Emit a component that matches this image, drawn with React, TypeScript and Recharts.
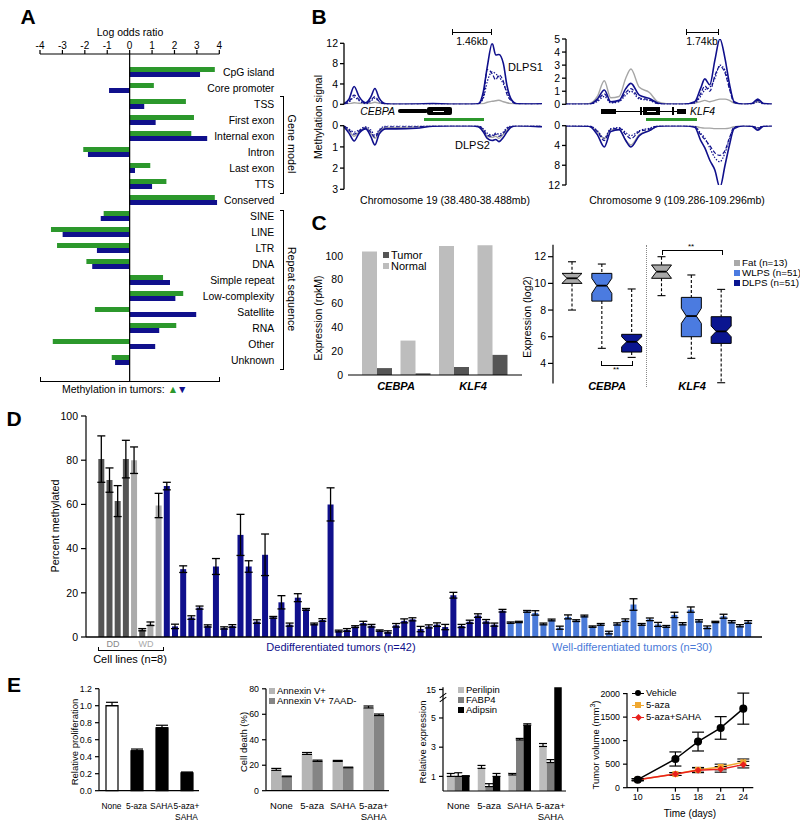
import React from 'react';
import {
  BarChart,
  Bar,
  LineChart,
  Line,
  XAxis,
  YAxis,
  ReferenceLine,
  ReferenceArea,
  ErrorBar,
  Cell,
} from 'recharts';

const FONT = 'Arial, "Liberation Sans", Helvetica, sans-serif';
const GREEN = '#2c982c';
const NAVY = '#10108c';
const LIGHT_BLUE = '#4a7ad8';
const GRAY_LINE = '#a6a6a6';

// ---------- A: log odds ratio
const aCategories = [
  'CpG island', 'Core promoter', 'TSS', 'First exon', 'Internal exon', 'Intron', 'Last exon', 'TTS',
  'Conserved', 'SINE', 'LINE', 'LTR', 'DNA', 'Simple repeat', 'Low-complexity', 'Satellite', 'RNA',
  'Other', 'Unknown',
];
const aUp = [3.8, 1.08, 2.51, 2.87, 2.75, -2.07, 0.92, 1.64, 3.8, -1.16, -3.51, -3.24, -1.93, 1.49, 2.39, -1.55, 2.08, -3.43, -0.8];
const aDown = [3.14, -0.92, 0.65, 1.16, 3.46, -1.86, 0.24, 1.0, 3.9, -1.29, -2.99, -1.46, -1.67, 1.8, 2.04, 2.97, 1.32, 1.14, -0.65];
const aTicks = [-4, -3, -2, -1, 0, 1, 2, 3, 4];

// ---------- B: methylation profiles
const cebpaPos = [0, 0.2, 0.41, 0.61, 0.88, 1.08, 1.25, 1.42, 1.69, 2.1, 2.92, 3.59, 4.27, 5.08, 5.42, 5.63, 5.79, 5.99, 6.13, 6.26, 6.44, 6.58, 6.78, 6.98, 7.53, 8];
const cebpaTopSolid = [0.1, 1.0, 3.5, 1.5, 0.3, 1.4, 3.1, 1.2, 0.1, 0, 0.05, 0.15, 0, 0, 0.1, 2.5, 7.4, 12, 9.7, 9.8, 8.0, 3.8, 0.8, 0.1, 0.05, 0.1];
const cebpaTopDashed = [0, 0.5, 1.8, 0.9, 0.2, 0.8, 1.5, 0.6, 0.05, 0, 0, 0.05, 0, 0, 0.1, 1.5, 6.9, 6.0, 4.8, 5.8, 4.5, 2.0, 0.6, 0.05, 0, 0.05];
const cebpaTopDotted = [0, 0.4, 1.4, 0.7, 0.1, 0.6, 1.2, 0.5, 0, 0, 0, 0, 0, 0, 0.1, 1.2, 4.5, 6.4, 6.0, 5.4, 4.0, 2.5, 0.8, 0.1, 0, 0];
const cebpaTopGray = [0, 0.1, 0.3, 0.2, 0.05, 0.2, 0.4, 0.2, 0.05, 0, 0, 0, 0, 0, 0, 0.1, 0.4, 0.6, 0.7, 0.8, 0.5, 0.3, 0.1, 0, 0, 0];
const cebpaBotSolid = [0.05, 0.35, 0.72, 0.35, 0.15, 0.5, 0.91, 0.4, 0.15, 0.15, 0.12, 0.02, 0, 0, 0.05, 0.3, 0.6, 0.7, 0.65, 0.75, 0.55, 0.3, 0.05, 0, 0.02, 0.05];
const cebpaBotDashed = [0, 0.2, 0.4, 0.25, 0.1, 0.3, 0.55, 0.25, 0.05, 0.05, 0.05, 0, 0, 0, 0, 0.2, 0.45, 0.5, 0.4, 0.5, 0.35, 0.15, 0.02, 0, 0, 0];
const cebpaBotDotted = [0, 0.15, 0.3, 0.2, 0.05, 0.2, 0.45, 0.2, 0, 0, 0, 0, 0, 0, 0, 0.15, 0.35, 0.45, 0.35, 0.4, 0.3, 0.1, 0, 0, 0, 0];
const cebpaBotGray = [0, 0.25, 0.5, 0.3, 0.1, 0.35, 0.6, 0.3, 0.1, 0.1, 0.05, 0, 0, 0, 0, 0.2, 0.5, 0.55, 0.5, 0.6, 0.4, 0.2, 0.05, 0, 0, 0];

const klf4Pos = [0, 1.11, 1.52, 1.86, 2.17, 2.58, 2.9, 3.15, 3.56, 4.05, 4.45, 4.86, 5.68, 6.25, 6.53, 6.74, 6.98, 7.23, 7.47, 7.72, 7.93, 8.16, 8.61, 9.02, 9.31, 9.59, 10];
const klf4TopGray = [0, 0.05, 0.6, 1.8, 0.5, 0.6, 2.0, 2.7, 1.3, 0.9, 0.2, 0.05, 0, 0.1, 0.2, 0.3, 0.2, 0.3, 0.4, 0.4, 0.3, 0.1, 0, 0.05, 0.2, 0.05, 0];
const klf4TopSolid = [0, 0, 0.4, 1.1, 0.2, 0.3, 1.2, 1.6, 0.7, 0.45, 0.1, 0, 0, 0.2, 1.2, 1.95, 1.5, 3.4, 5.0, 3.5, 1.6, 0.2, 0, 0.05, 0.4, 0.05, 0];
const klf4TopDashed = [0, 0, 0.3, 0.8, 0.15, 0.25, 0.9, 1.2, 0.5, 0.35, 0.05, 0, 0, 0.15, 0.8, 1.4, 1.0, 2.2, 2.9, 2.4, 1.2, 0.15, 0, 0.05, 0.3, 0.05, 0];
const klf4TopDotted = [0, 0, 0.2, 0.6, 0.1, 0.2, 0.7, 1.0, 0.4, 0.3, 0.05, 0, 0, 0.1, 0.6, 1.1, 1.3, 2.0, 3.0, 2.6, 1.3, 0.2, 0, 0, 0.2, 0, 0];
const klf4BotSolid = [0, 0.1, 1.8, 4.3, 1.2, 0.8, 3.0, 4.3, 2.0, 1.0, 0.1, 0, 0, 0.3, 2.9, 4.5, 7.0, 9.0, 12.5, 8.0, 4.0, 0.6, 0, 0.1, 0.9, 0.1, 0];
const klf4BotGray = [0, 0.1, 1.2, 2.6, 0.8, 0.8, 3.0, 3.9, 1.8, 1.0, 0.1, 0, 0, 0.1, 0.4, 0.5, 0.5, 0.6, 0.6, 0.6, 0.5, 0.2, 0, 0.1, 0.5, 0.1, 0];
const klf4BotDashed = [0, 0, 1.2, 3.0, 0.8, 0.5, 1.8, 2.6, 1.2, 0.7, 0, 0, 0, 0.2, 1.8, 2.8, 4.0, 5.5, 6.0, 5.0, 2.5, 0.3, 0, 0.05, 0.6, 0.05, 0];
const klf4BotDotted = [0, 0, 1.0, 2.5, 0.6, 0.4, 1.4, 2.0, 1.0, 0.5, 0, 0, 0, 0.1, 1.5, 2.5, 4.5, 6.5, 7.3, 5.5, 2.8, 0.4, 0, 0, 0.4, 0, 0];

// ---------- C: expression
const cBars = ['CEBPA-1', 'CEBPA-2', 'KLF4-1', 'KLF4-2'];
const cNormal = [103.6, 28.9, 108.3, 108.9];
const cTumor = [5.8, 1.4, 6.7, 16.9];

const boxGroup = ['Fat', 'WLPS', 'DLPS', 'Fat', 'WLPS', 'DLPS'];
const boxMin = [8.0, 5.13, 4.45, 9.08, 4.38, 2.55];
const boxQ1 = [10.0, 8.67, 4.85, 10.38, 6.0, 5.5];
const boxMedian = [10.38, 9.83, 5.62, 10.88, 7.55, 6.4];
const boxQ3 = [10.75, 10.75, 6.18, 11.38, 8.95, 7.5];
const boxMax = [11.62, 11.45, 9.58, 12.0, 10.63, 9.55];
const boxNotchLo = [10.0, 9.25, 5.25, 10.38, 7.0, 6.0];
const boxNotchHi = [10.75, 10.38, 6.0, 11.38, 8.13, 6.8];

// ---------- D: percent methylated
const cellLineValues = [80.5, 71, 61.5, 80.5, 80, 3.3, 6, 59.5];
const cellLineErrors = [10.5, 5.5, 7, 8.5, 6, 0.5, 0.8, 5.5];
const cellLineKinds = ['DD', 'DD', 'DD', 'DD', 'WD', 'DD', 'WD', 'WD'];
const dedifValues = [68.3, 4.8, 30.7, 8.8, 13.3, 5.0, 31.9, 4.1, 5.0, 46.2, 31.9, 7.0, 37.2, 8.9, 15.7, 5.6, 17.8, 12.5, 5.9, 7.7, 60.0, 2.7, 3.2, 4.7, 6.3, 5.1, 2.9, 2.3, 5.3, 7.3, 8.0, 3.6, 4.8, 5.6, 4.5, 18.9, 5.0, 6.9, 9.7, 7.1, 5.6, 11.9];
const dedifErrors = [1.7, 1.0, 1.5, 0.8, 0.7, 0.5, 3.6, 0.5, 0.6, 9.3, 2.6, 0.8, 9.4, 0.4, 3.0, 0.7, 1.8, 0.4, 0.4, 0.6, 7.5, 0.4, 0.6, 0.4, 0.8, 0.6, 0.3, 0.5, 0.8, 0.9, 0.7, 1.2, 0.7, 0.8, 1.2, 1.3, 0.7, 0.7, 0.8, 0.8, 0.7, 0.6];
const wellDiffValues = [6.5, 6.8, 11.6, 10.9, 5.9, 7.7, 4.2, 9.1, 7.4, 9.5, 4.7, 5.7, 2.0, 5.9, 7.6, 14.7, 5.7, 8.0, 5.7, 4.8, 10.0, 6.0, 12.4, 7.3, 4.4, 6.8, 9.4, 6.9, 5.1, 6.8];
const wellDiffErrors = [0.3, 0.3, 0.4, 1.0, 0.4, 0.4, 0.7, 0.9, 0.4, 0.4, 0.3, 0.4, 0.6, 0.5, 0.6, 2.6, 0.4, 0.6, 0.9, 0.4, 1.2, 0.5, 1.2, 0.5, 0.6, 0.3, 0.9, 0.5, 0.5, 0.6];

// ---------- E: treatments
const treatments = ['None', '5-aza', 'SAHA', '5-aza+\nSAHA'];
const prolifValues = [1.0, 0.47, 0.74, 0.21];
const prolifErrors = [0.04, 0.02, 0.03, 0.01];
const annexinValues = [16, 28.5, 23, 65];
const annexinErrors = [1.5, 1.5, 0.8, 1.5];
const annexin7aadValues = [11, 23, 18, 59];
const annexin7aadErrors = [0.5, 1, 0.5, 1.2];
const perilipinValues = [1.0, 1.55, 1.1, 3.05];
const perilipinErrors = [0.2, 0.2, 0.1, 0.2];
const fabp4Values = [1.0, 0.3, 3.5, 1.95];
const fabp4Errors = [0.25, 0.2, 0.1, 0.2];
const adipsinValues = [1.0, 1.0, 4.5, 15];
const adipsinErrors = [0.05, 0.2, 0.1, 0.3];

const days = [10, 15, 18, 21, 24];
const vehicleVolume = [170, 610, 980, 1270, 1680];
const vehicleErr = [20, 150, 200, 240, 330];
const azaVolume = [170, 290, 380, 440, 540];
const azaErr = [20, 30, 50, 60, 70];
const comboVolume = [170, 290, 370, 390, 490];
const comboErr = [20, 30, 50, 60, 70];

// ---------- tables
const aRows = aCategories.map((name, i) => ({ name, up: aUp[i], down: aDown[i] }));
const cRows = cBars.map((k, i) => ({ k, normal: cNormal[i], tumor: cTumor[i] }));
const boxRows = boxGroup.map((group, i) => ({
  key: `${i}`,
  group,
  span: [boxMin[i], boxMax[i]],
  min: boxMin[i],
  q1: boxQ1[i],
  median: boxMedian[i],
  q3: boxQ3[i],
  max: boxMax[i],
  nLo: boxNotchLo[i],
  nHi: boxNotchHi[i],
}));
const dRows = [
  ...cellLineValues.map((v, i) => ({ id: `c${i}`, v, e: cellLineErrors[i], kind: cellLineKinds[i] })),
  ...dedifValues.map((v, i) => ({ id: `d${i}`, v, e: dedifErrors[i], kind: 'dedif' })),
  ...wellDiffValues.map((v, i) => ({ id: `w${i}`, v, e: wellDiffErrors[i], kind: 'well' })),
];
const prolifRows = treatments.map((t, i) => ({ t, v: prolifValues[i], e: [0, prolifErrors[i]] }));
const deathRows = treatments.map((t, i) => ({
  t, a: annexinValues[i], ae: [0, annexinErrors[i]], b: annexin7aadValues[i], be: [0, annexin7aadErrors[i]],
}));
const exprRows = treatments.map((t, i) => ({
  t,
  p: perilipinValues[i], pe: [0, perilipinErrors[i]],
  f: fabp4Values[i], fe: [0, fabp4Errors[i]],
  a: adipsinValues[i], ae: [0, adipsinErrors[i]],
}));
const volRows = days.map((d, i) => ({
  d, veh: vehicleVolume[i], vehE: vehicleErr[i], aza: azaVolume[i], azaE: azaErr[i], combo: comboVolume[i], comboE: comboErr[i],
}));

const D_COLORS: Record<string, string> = { DD: '#555555', WD: '#ababab', dedif: NAVY, well: LIGHT_BLUE };
const BOX_COLORS: Record<string, string> = { Fat: '#a9a9a9', WLPS: '#4b7be0', DLPS: '#0a1590' };

// ---------- helpers
function T({ x, y, children, a = 'middle', s = 10.5, w = 400, i = false, c = '#000', r = 0 }: any) {
  const tx = r ? '-50%' : a === 'start' ? '0%' : a === 'end' ? '-100%' : '-50%';
  return (
    <div
      style={{
        position: 'absolute', left: x, top: y, transform: `translate(${tx},-50%)${r ? ` rotate(${r}deg)` : ''}`,
        fontSize: s, fontWeight: w, fontStyle: i ? 'italic' : 'normal', color: c, whiteSpace: 'nowrap', lineHeight: 1,
      }}
    >
      {children}
    </div>
  );
}

function R({ x, y, w, h, c = '#000', style = {} }: any) {
  return <div style={{ position: 'absolute', left: x, top: y, width: w, height: h, background: c, ...style }} />;
}

const tickStyle = { fontSize: 10.5, fill: '#000' };
const aTickStyle = { fontSize: 10, fill: '#000' };
const eTick = { fontSize: 8.8, fill: '#000' };

function CategoryLabel({ x, y, payload }: any) {
  return (
    <text x={x + 47} y={y} dy={4} textAnchor="end" fontSize={10.4} fill="#000">
      {payload.value}
    </text>
  );
}

function TwoLineTick({ x, y, payload, fs = 10 }: any) {
  const parts = String(payload.value).split('\n');
  return (
    <text x={x} y={y} textAnchor="middle" fontSize={fs} fill="#000">
      {parts.map((p, i) => (
        <tspan key={i} x={x} dy={i === 0 ? 18 : 11}>{p}</tspan>
      ))}
    </text>
  );
}

function NotchedBox(props: any) {
  const { x, y, width, height, payload } = props;
  if (!payload || height == null) return null;
  const top = Math.min(y, y + height);
  const h = Math.abs(height);
  const py = (v: number) => top + ((payload.max - v) / (payload.max - payload.min)) * h;
  const cx = x + width / 2;
  const L = x;
  const Rt = x + width;
  const inset = width * 0.25;
  const pts = [
    [L, py(payload.q3)], [Rt, py(payload.q3)], [Rt, py(payload.nHi)], [Rt - inset, py(payload.median)],
    [Rt, py(payload.nLo)], [Rt, py(payload.q1)], [L, py(payload.q1)], [L, py(payload.nLo)],
    [L + inset, py(payload.median)], [L, py(payload.nHi)],
  ].map((p) => p.join(',')).join(' ');
  return (
    <g>
      <line x1={cx} x2={cx} y1={py(payload.max)} y2={py(payload.q3)} stroke="#000" strokeWidth={1.1} strokeDasharray="3 2" />
      <line x1={cx} x2={cx} y1={py(payload.q1)} y2={py(payload.min)} stroke="#000" strokeWidth={1.1} strokeDasharray="3 2" />
      <line x1={cx - 4} x2={cx + 4} y1={py(payload.max)} y2={py(payload.max)} stroke="#000" strokeWidth={1.1} />
      <line x1={cx - 4} x2={cx + 4} y1={py(payload.min)} y2={py(payload.min)} stroke="#000" strokeWidth={1.1} />
      <polygon points={pts} fill={BOX_COLORS[payload.group]} stroke="#000" strokeWidth={1} />
      <line x1={L + inset} x2={Rt - inset} y1={py(payload.median)} y2={py(payload.median)} stroke="#000" strokeWidth={1.8} />
    </g>
  );
}

function Profile({ left, top, width, height, margin, pos, solid, dashed, dotted, gray, domain, ticks, reversed }: any) {
  const rows = pos.map((p: number, i: number) => ({ p, solid: solid[i], dashed: dashed[i], dotted: dotted[i], gray: gray[i] }));
  return (
    <div style={{ position: 'absolute', left, top }}>
      <LineChart width={width} height={height} data={rows} margin={margin}>
        <XAxis type="number" dataKey="p" domain={[pos[0], pos[pos.length - 1]]} hide />
        <YAxis
          domain={domain}
          ticks={ticks}
          reversed={reversed}
          allowDataOverflow
          interval={0}
          width={44}
          tick={tickStyle}
          tickSize={4}
          stroke="#000"
          strokeWidth={1.3}
        />
        <Line dataKey="gray" type="monotone" stroke={GRAY_LINE} strokeWidth={1.4} dot={false} isAnimationActive={false} />
        <Line dataKey="dotted" type="monotone" stroke={NAVY} strokeWidth={1.2} strokeDasharray="1.5 1.5" dot={false} isAnimationActive={false} />
        <Line dataKey="dashed" type="monotone" stroke={NAVY} strokeWidth={1.2} strokeDasharray="4 2" dot={false} isAnimationActive={false} />
        <Line dataKey="solid" type="monotone" stroke={NAVY} strokeWidth={1.6} dot={false} isAnimationActive={false} />
      </LineChart>
    </div>
  );
}

function Square({ x, y, c, label, s = 9.5 }: any) {
  return (
    <>
      <R x={x} y={y - 3} w={6} h={6} c={c} />
      <T x={x + 8} y={y} a="start" s={s}>{label}</T>
    </>
  );
}

function SquareDot(props: any) {
  const { cx, cy, index } = props;
  if (cx == null) return null;
  return <rect key={`s${index}`} x={cx - 3} y={cy - 3} width={6} height={6} fill="#f0a830" />;
}

function DiamondDot(props: any) {
  const { cx, cy, index } = props;
  if (cx == null) return null;
  return <polygon key={`d${index}`} points={`${cx},${cy - 3.5} ${cx + 3.5},${cy} ${cx},${cy + 3.5} ${cx - 3.5},${cy}`} fill="#e8201c" />;
}

export default function App() {
  return (
    <div
      style={{
        position: 'absolute', left: 0, top: 0, width: 800, height: 826, background: '#fff',
        fontFamily: FONT, color: '#000', overflow: 'hidden',
      }}
    >
      {/* ---------------- A ---------------- */}
      <T x={28} y={16} s={21} w={700}>A</T>
      <T x={130} y={32} s={10.5}>Log odds ratio</T>
      <div style={{ position: 'absolute', left: 0, top: 0 }}>
        <BarChart
          layout="vertical"
          width={330}
          height={400}
          data={aRows}
          margin={{ top: 34, right: 0, left: 40, bottom: 19 }}
          barSize={5}
          barGap={0}
        >
          <XAxis
            type="number"
            orientation="top"
            domain={[-4, 4]}
            ticks={aTicks}
            height={20}
            tick={aTickStyle}
            tickSize={4}
            tickMargin={1}
            stroke="#000"
            strokeWidth={1.2}
          />
          <YAxis
            type="category"
            dataKey="name"
            orientation="right"
            width={110.7}
            padding={{ top: 10, bottom: 13 }}
            axisLine={false}
            tickLine={false}
            interval={0}
            tick={<CategoryLabel />}
          />
          <Bar dataKey="up" fill={GREEN} isAnimationActive={false} />
          <Bar dataKey="down" fill={NAVY} isAnimationActive={false} />
          <ReferenceLine x={0} stroke="#000" strokeWidth={1.2} />
        </BarChart>
      </div>
      <div style={{ position: 'absolute', left: 280, top: 96, width: 3, height: 96, borderTop: '1px solid #000', borderRight: '1px solid #000', borderBottom: '1px solid #000' }} />
      <T x={292} y={144} r={90} s={10.8}>Gene model</T>
      <div style={{ position: 'absolute', left: 280, top: 210, width: 3, height: 158, borderTop: '1px solid #000', borderRight: '1px solid #000', borderBottom: '1px solid #000' }} />
      <T x={292} y={289} r={90} s={10.8}>Repeat sequence</T>
      <div style={{ position: 'absolute', left: 40, top: 377, width: 178, height: 4, borderLeft: '1px solid #000', borderRight: '1px solid #000', borderBottom: '1px solid #000' }} />
      <T x={62} y={389} a="start" s={10.5}>
        Methylation in tumors: <span style={{ color: GREEN }}>▲</span><span style={{ color: NAVY, marginLeft: -1 }}>▼</span>
      </T>

      {/* ---------------- B ---------------- */}
      <T x={319} y={16} s={21} w={700}>B</T>
      <T x={318} y={117} r={-90} s={10.5}>Methylation signal</T>
      <Profile
        left={300} top={30} width={250} height={80}
        margin={{ top: 13.3, right: 8, bottom: 5.7, left: 0 }}
        pos={cebpaPos} solid={cebpaTopSolid} dashed={cebpaTopDashed} dotted={cebpaTopDotted} gray={cebpaTopGray}
        domain={[0, 12]} ticks={[0, 4, 8, 12]} reversed={false}
      />
      <Profile
        left={300} top={115} width={250} height={80}
        margin={{ top: 10.7, right: 8, bottom: 5.7, left: 0 }}
        pos={cebpaPos} solid={cebpaBotSolid} dashed={cebpaBotDashed} dotted={cebpaBotDotted} gray={cebpaBotGray}
        domain={[0, 3]} ticks={[0, 1, 2, 3]} reversed
      />
      <Profile
        left={522} top={30} width={260} height={80}
        margin={{ top: 9, right: 10, bottom: 5.7, left: 0 }}
        pos={klf4Pos} solid={klf4TopSolid} dashed={klf4TopDashed} dotted={klf4TopDotted} gray={klf4TopGray}
        domain={[0, 5]} ticks={[0, 1, 2, 3, 4, 5]} reversed={false}
      />
      <Profile
        left={522} top={115} width={260} height={80}
        margin={{ top: 10.7, right: 10, bottom: 10, left: 0 }}
        pos={klf4Pos} solid={klf4BotSolid} dashed={klf4BotDashed} dotted={klf4BotDotted} gray={klf4BotGray}
        domain={[0, 12]} ticks={[0, 4, 8, 12]} reversed
      />
      {/* scale bars */}
      <R x={452} y={31.5} w={40} h={1} />
      <R x={452} y={29} w={1} h={6} />
      <R x={491} y={29} w={1} h={6} />
      <T x={472} y={41} s={10.5}>1.46kb</T>
      <R x={686} y={31.5} w={33} h={1} />
      <R x={686} y={29} w={1} h={6} />
      <R x={718} y={29} w={1} h={6} />
      <T x={702} y={41} s={10.5}>1.74kb</T>
      <T x={508} y={67} a="start" s={11}>DLPS1</T>
      <T x={455} y={145} a="start" s={11}>DLPS2</T>
      {/* CEBPA gene track */}
      <T x={395} y={111} a="end" s={10.5} i>CEBPA</T>
      <R x={398} y={109} w={30} h={4} style={{ borderRadius: 2 }} />
      <R x={427} y={107} w={25} h={8} style={{ borderRadius: 2 }} />
      <R x={433} y={110.5} w={11} h={1} c="#fff" />
      <R x={424} y={117.5} w={60} h={3.5} c={GREEN} />
      {/* KLF4 gene track */}
      <R x={601} y={108.5} w={15} h={5} />
      <R x={616} y={110.5} w={70} h={1} />
      <R x={640} y={107} w={2} h={8} />
      <R x={643} y={107} w={17} h={8} />
      <R x={647} y={110.5} w={9} h={1} c="#fff" />
      <R x={672} y={107} w={2} h={8} />
      <R x={677} y={108.5} w={9} h={5} />
      <T x={690} y={111} a="start" s={10.5} i>KLF4</T>
      <R x={646} y={117.5} w={51} h={3.5} c={GREEN} />
      <T x={445} y={200} s={10.5}>Chromosome 19 (38.480-38.488mb)</T>
      <T x={677} y={200} s={10.5}>Chromosome 9 (109.286-109.296mb)</T>

      {/* ---------------- C ---------------- */}
      <T x={319} y={222} s={21} w={700}>C</T>
      <T x={318} y={318} r={-90} s={10.5}>Expression (rpkM)</T>
      <div style={{ position: 'absolute', left: 300, top: 230 }}>
        <BarChart
          width={230}
          height={160}
          data={cRows}
          margin={{ top: 14, right: 8, left: 0, bottom: 14 }}
          barSize={15}
          barGap={0}
        >
          <XAxis dataKey="k" tick={false} tickLine={false} height={1} padding={{ left: 10, right: 10 }} stroke="#000" strokeWidth={1.2} />
          <YAxis domain={[0, 110]} ticks={[0, 20, 40, 60, 80, 100]} width={48} axisLine={false} tickLine={false} tickSize={3} tick={tickStyle} />
          <Bar dataKey="normal" fill="#bdbdbd" isAnimationActive={false} />
          <Bar dataKey="tumor" fill="#555555" isAnimationActive={false} />
        </BarChart>
      </div>
      <Square x={383} y={255} c="#555555" label="Tumor" s={11} />
      <Square x={383} y={266} c="#bdbdbd" label="Normal" s={11} />
      <T x={396} y={386} s={11} w={700} i>CEBPA</T>
      <T x={473} y={386} s={11} w={700} i>KLF4</T>

      <T x={527} y={317} r={-90} s={10.5}>Expression (log2)</T>
      <div style={{ position: 'absolute', left: 500, top: 235 }}>
        <BarChart width={245} height={155} data={boxRows} margin={{ top: 9.7, right: 5, left: 0, bottom: 6.6 }} barSize={20}>
          <XAxis dataKey="key" hide padding={{ left: 4, right: 4 }} />
          <YAxis domain={[2.5, 12.9]} ticks={[4, 6, 8, 10, 12]} width={53} tick={tickStyle} tickSize={5} stroke="#000" strokeWidth={1.2} />
          <Bar dataKey="span" shape={(p: any) => <NotchedBox {...p} />} isAnimationActive={false} />
        </BarChart>
      </div>
      <div style={{ position: 'absolute', left: 646, top: 245, height: 142, borderLeft: '1px dotted #888' }} />
      <div style={{ position: 'absolute', left: 601, top: 361, width: 30, height: 4, borderLeft: '1px solid #000', borderRight: '1px solid #000', borderBottom: '1px solid #000' }} />
      <T x={616} y={370} s={8}>**</T>
      <div style={{ position: 'absolute', left: 662, top: 250, width: 59, height: 4, borderLeft: '1px solid #000', borderRight: '1px solid #000', borderTop: '1px solid #000' }} />
      <T x={691} y={247} s={8}>**</T>
      <T x={607} y={386} s={11} w={700} i>CEBPA</T>
      <T x={692} y={386} s={11} w={700} i>KLF4</T>
      <Square x={734} y={263} c={BOX_COLORS.Fat} label="Fat (n=13)" s={9.8} />
      <Square x={734} y={273} c={BOX_COLORS.WLPS} label="WLPS (n=51)" s={9.8} />
      <Square x={734} y={283} c={BOX_COLORS.DLPS} label="DLPS (n=51)" s={9.8} />

      {/* ---------------- D ---------------- */}
      <T x={14} y={418} s={21} w={700}>D</T>
      <T x={55} y={526} r={-90} s={10.8}>Percent methylated</T>
      <div style={{ position: 'absolute', left: 0, top: 405 }}>
        <BarChart width={800} height={260} data={dRows} margin={{ top: 11, right: 38, left: 0, bottom: 26 }} barCategoryGap="16%">
          <XAxis dataKey="id" tick={false} tickLine={false} height={2} padding={{ left: 11, right: 10 }} stroke="#000" strokeWidth={1.5} />
          <YAxis domain={[0, 100]} ticks={[0, 20, 40, 60, 80, 100]} width={86} tick={tickStyle} tickSize={5} tickMargin={3} stroke="#000" strokeWidth={1.2} />
          <Bar dataKey="v" isAnimationActive={false}>
            {dRows.map((r) => (
              <Cell key={r.id} fill={D_COLORS[r.kind]} />
            ))}
            <ErrorBar dataKey="e" width={4} stroke="#000" strokeWidth={1.3} />
          </Bar>
        </BarChart>
      </div>
      <T x={113} y={644} s={9} c="#888">DD</T>
      <T x={146} y={644} s={9} c="#aaa">WD</T>
      <div style={{ position: 'absolute', left: 98, top: 647, width: 64, height: 3, borderLeft: '1px solid #000', borderRight: '1px solid #000', borderBottom: '1px solid #000' }} />
      <T x={130} y={659} s={11}>Cell lines (n=8)</T>
      <T x={341} y={647} s={11} c={NAVY}>Dedifferentiated tumors (n=42)</T>
      <T x={632} y={647} s={11} c={LIGHT_BLUE}>Well-differentiated tumors (n=30)</T>

      {/* ---------------- E ---------------- */}
      <T x={14} y={684} s={21} w={700}>E</T>

      {/* E1 proliferation */}
      <T x={75} y={742} r={-90} s={9.5}>Relative proliferation</T>
      <div style={{ position: 'absolute', left: 40, top: 680 }}>
        <BarChart width={170} height={146} data={prolifRows} margin={{ top: 8.7, right: 11, left: 0, bottom: 0 }} barSize={12}>
          <XAxis dataKey="t" height={35.3} tickLine={false} tickSize={0} tickMargin={0} interval={0} tick={<TwoLineTick fs={8.4} />} stroke="#000" strokeWidth={1.2} />
          <YAxis domain={[0, 1.2]} ticks={[0, 0.2, 0.4, 0.6, 0.8, 1.0, 1.2]} tickFormatter={(v: number) => v.toFixed(1)} width={59} tick={eTick} tickSize={4} tickMargin={3} stroke="#000" strokeWidth={1.2} />
          <Bar dataKey="v" isAnimationActive={false}>
            {prolifRows.map((r, i) => (
              <Cell key={r.t} fill={i === 0 ? '#fff' : '#000'} stroke="#000" strokeWidth={1.2} />
            ))}
            <ErrorBar dataKey="e" width={6} stroke="#000" strokeWidth={1.2} />
          </Bar>
        </BarChart>
      </div>

      {/* E2 cell death */}
      <T x={244} y={742} r={-90} s={9.5}>Cell death (%)</T>
      <div style={{ position: 'absolute', left: 210, top: 680 }}>
        <BarChart width={185} height={146} data={deathRows} margin={{ top: 8.8, right: 6, left: 0, bottom: 0 }} barSize={10.5} barGap={0}>
          <XAxis dataKey="t" height={35.3} tickLine={false} tickSize={0} tickMargin={0} interval={0} tick={<TwoLineTick fs={9.5} />} stroke="#000" strokeWidth={1.2} />
          <YAxis domain={[0, 80]} ticks={[0, 20, 40, 60, 80]} width={56} tick={eTick} tickSize={4} tickMargin={3} stroke="#000" strokeWidth={1.2} />
          <Bar dataKey="a" fill="#b5b5b5" isAnimationActive={false}>
            <ErrorBar dataKey="ae" width={5} stroke="#000" strokeWidth={1.2} />
          </Bar>
          <Bar dataKey="b" fill="#858585" isAnimationActive={false}>
            <ErrorBar dataKey="be" width={5} stroke="#000" strokeWidth={1.2} />
          </Bar>
        </BarChart>
      </div>
      <Square x={269} y={691} c="#b5b5b5" label="Annexin V+" />
      <Square x={269} y={701} c="#858585" label="Annexin V+ 7AAD-" />

      {/* E3 relative expression */}
      <T x={423} y={742} r={-90} s={9.5}>Relative expression</T>
      <div style={{ position: 'absolute', left: 390, top: 680 }}>
        <BarChart width={185} height={146} data={exprRows} margin={{ top: 7.3, right: 9, left: 0, bottom: 0 }} barSize={7.5} barGap={0}>
          <XAxis dataKey="t" height={35} tickLine={false} tickSize={0} tickMargin={0} interval={0} tick={<TwoLineTick fs={9.5} />} stroke="#000" strokeWidth={1.2} />
          <YAxis
            domain={[0, 7.1]}
            allowDataOverflow
            ticks={[0, 1, 2, 3, 4, 5, 6, 6.95]}
            tickFormatter={(v: number) => (v > 6.5 ? '15' : String(v))}
            width={53}
            tick={eTick}
            tickSize={4}
            tickMargin={3}
            stroke="#000"
            strokeWidth={1.2}
          />
          <Bar dataKey="p" fill="#bcbcbc" isAnimationActive={false}>
            <ErrorBar dataKey="pe" width={4} stroke="#000" strokeWidth={1.2} />
          </Bar>
          <Bar dataKey="f" fill="#7d7d7d" isAnimationActive={false}>
            <ErrorBar dataKey="fe" width={4} stroke="#000" strokeWidth={1.2} />
          </Bar>
          <Bar dataKey="a" fill="#000" isAnimationActive={false}>
            <ErrorBar dataKey="ae" width={4} stroke="#000" strokeWidth={1.2} />
          </Bar>
          <ReferenceArea y1={6.38} y2={6.52} fill="#fff" fillOpacity={1} stroke="none" />
        </BarChart>
      </div>
      <R x={439} y={695} w={8} h={1} style={{ transform: 'rotate(-35deg)' }} />
      <R x={439} y={699} w={8} h={1} style={{ transform: 'rotate(-35deg)' }} />
      <Square x={458} y={690} c="#bcbcbc" label="Perilipin" />
      <Square x={458} y={700} c="#7d7d7d" label="FABP4" />
      <Square x={458} y={710} c="#000" label="Adipsin" />

      {/* E4 tumor volume */}
      <T x={595} y={745} r={-90} s={9.5}>
        Tumor volume (mm<sup style={{ fontSize: 7 }}>3</sup>)
      </T>
      <div style={{ position: 'absolute', left: 570, top: 680 }}>
        <LineChart width={200} height={140} data={volRows} margin={{ top: 13.1, right: 16.7, left: 0, bottom: 12.3 }}>
          <XAxis type="number" dataKey="d" domain={[10, 24]} ticks={days} padding={{ left: 10.7, right: 10 }} height={20} tick={eTick} tickSize={4} tickMargin={2} stroke="#000" strokeWidth={1.2} />
          <YAxis domain={[0, 2000]} ticks={[0, 500, 1000, 1500, 2000]} width={57} tick={eTick} tickSize={4} tickMargin={3} stroke="#000" strokeWidth={1.2} />
          <Line dataKey="aza" stroke="#f0a830" strokeWidth={1.5} dot={<SquareDot />} isAnimationActive={false}>
            <ErrorBar dataKey="azaE" width={6} stroke="#000" strokeWidth={1.1} direction="y" />
          </Line>
          <Line dataKey="combo" stroke="#e8201c" strokeWidth={1.5} dot={<DiamondDot />} isAnimationActive={false}>
            <ErrorBar dataKey="comboE" width={6} stroke="#000" strokeWidth={1.1} direction="y" />
          </Line>
          <Line dataKey="veh" stroke="#000" strokeWidth={1.5} dot={{ r: 3.3, fill: '#000', stroke: '#000' }} isAnimationActive={false}>
            <ErrorBar dataKey="vehE" width={6} stroke="#000" strokeWidth={1.2} direction="y" />
          </Line>
        </LineChart>
      </div>
      <T x={690} y={814} s={10}>Time (days)</T>
      <R x={632} y={692.5} w={12} h={1.5} />
      <div style={{ position: 'absolute', left: 635, top: 690, width: 6, height: 6, borderRadius: 3, background: '#000' }} />
      <T x={646} y={693} a="start" s={9.5}>Vehicle</T>
      <R x={632} y={704.5} w={12} h={1.5} c="#f0a830" />
      <R x={635} y={702} w={6} h={6} c="#f0a830" />
      <T x={646} y={705} a="start" s={9.5}>5-aza</T>
      <R x={632} y={716.5} w={12} h={1.5} c="#e8201c" />
      <R x={635.5} y={714.5} w={5} h={5} c="#e8201c" style={{ transform: 'rotate(45deg)' }} />
      <T x={646} y={717} a="start" s={9.5}>5-aza+SAHA</T>
    </div>
  );
}
